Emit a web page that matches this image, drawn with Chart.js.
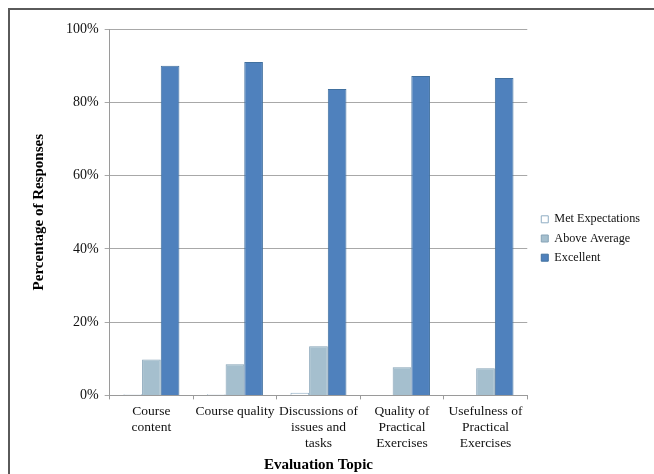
<!DOCTYPE html>
<html>
<head>
<meta charset="utf-8">
<script src="https://cdn.jsdelivr.net/npm/chart.js@4/dist/chart.umd.min.js"></script>
<style>
  html, body { margin: 0; padding: 0; background: #ffffff; overflow: hidden; }
  #wrap { position: relative; width: 654px; height: 474px; }
  #frame { position: absolute; left: 8px; top: 8px; width: 700px; height: 520px;
           border-left: 2px solid #5a5a5a; border-top: 2px solid #5a5a5a; pointer-events: none; }
  canvas { position: absolute; left: 0; top: 0; }
</style>
</head>
<body>
<div id="wrap">
  <canvas id="c" width="654" height="474"></canvas>
  <div id="frame"></div>
</div>
<script>
// Evaluation topics (multi-line category labels)
const topics = [
  ["Course", "content"],
  "Course quality",
  ["Discussions of", "issues and", "tasks"],
  ["Quality of", "Practical", "Exercises"],
  ["Usefulness of", "Practical", "Exercises"]
];

// Share of responses per rating, in percent
const metExpectations = [0.3, 0.3, 0.7, 0, 0];
const aboveAverage    = [9.8, 8.5, 13.4, 7.7, 7.4];
const excellent       = [90.0, 91.0, 83.6, 87.2, 86.6];

// Y axis tick values
const yTicks = [0, 20, 40, 60, 80, 100];

const serif = "'Liberation Serif', 'Times New Roman', serif";

// Nudge the legend block a little further from the plot
const legendShift = {
  id: 'legendShift',
  afterLayout(chart) {
    const lg = chart.legend;
    if (lg) { lg.left += 7; lg.right += 7; lg.top -= 13; lg.bottom -= 13; }
  }
};

new Chart(document.getElementById('c'), {
  type: 'bar',
  data: {
    labels: topics,
    datasets: [
      { label: 'Met Expectations', data: metExpectations,
        backgroundColor: '#ffffff', borderColor: '#8fadc4', borderWidth: 1 },
      { label: 'Above Average', data: aboveAverage,
        backgroundColor: '#a5bfce', borderColor: '#86a3b7', borderWidth: 1 },
      { label: 'Excellent', data: excellent,
        backgroundColor: '#4f81bd', borderColor: '#41709f', borderWidth: 1 }
    ]
  },
  options: {
    responsive: false,
    animation: false,
    devicePixelRatio: 1,
    layout: { padding: { left: 30, top: 29, right: 11, bottom: 0 } },
    datasets: { bar: { barPercentage: 1.0, categoryPercentage: 0.67 } },
    plugins: {
      tooltip: { enabled: false },
      legend: {
        position: 'right',
        align: 'center',
        labels: {
          boxWidth: 7, boxHeight: 7, padding: 7,
          color: '#111111',
          font: { family: serif, size: 12.2 }
        }
      }
    },
    scales: {
      x: {
        grid: { display: true, drawOnChartArea: false, drawTicks: true, tickLength: 4,
                offset: true, color: '#9a9a9a' },
        border: { display: true, color: '#9a9a9a' },
        ticks: { color: '#111111', font: { family: serif, size: 13.5, lineHeight: 1.2 },
                 maxRotation: 0, minRotation: 0, autoSkip: false, padding: 4 },
        title: { display: true, text: 'Evaluation Topic', color: '#000000',
                 font: { family: serif, size: 15, weight: 'bold' },
                 padding: { top: 0, bottom: 0 } }
      },
      y: {
        min: 0, max: 100,
        afterBuildTicks(scale) { scale.ticks = yTicks.map(v => ({ value: v })); },
        grid: { color: '#a8a8a8', drawTicks: true, tickLength: 5 },
        border: { display: true, color: '#9a9a9a' },
        ticks: { color: '#111111', font: { family: serif, size: 14 }, padding: 6,
                 callback: v => v + '%' },
        title: { display: true, text: 'Percentage of Responses', color: '#000000',
                 font: { family: serif, size: 15, weight: 'bold' },
                 padding: { top: 0, bottom: 12 } }
      }
    }
  },
  plugins: [legendShift]
});
</script>
</body>
</html>
